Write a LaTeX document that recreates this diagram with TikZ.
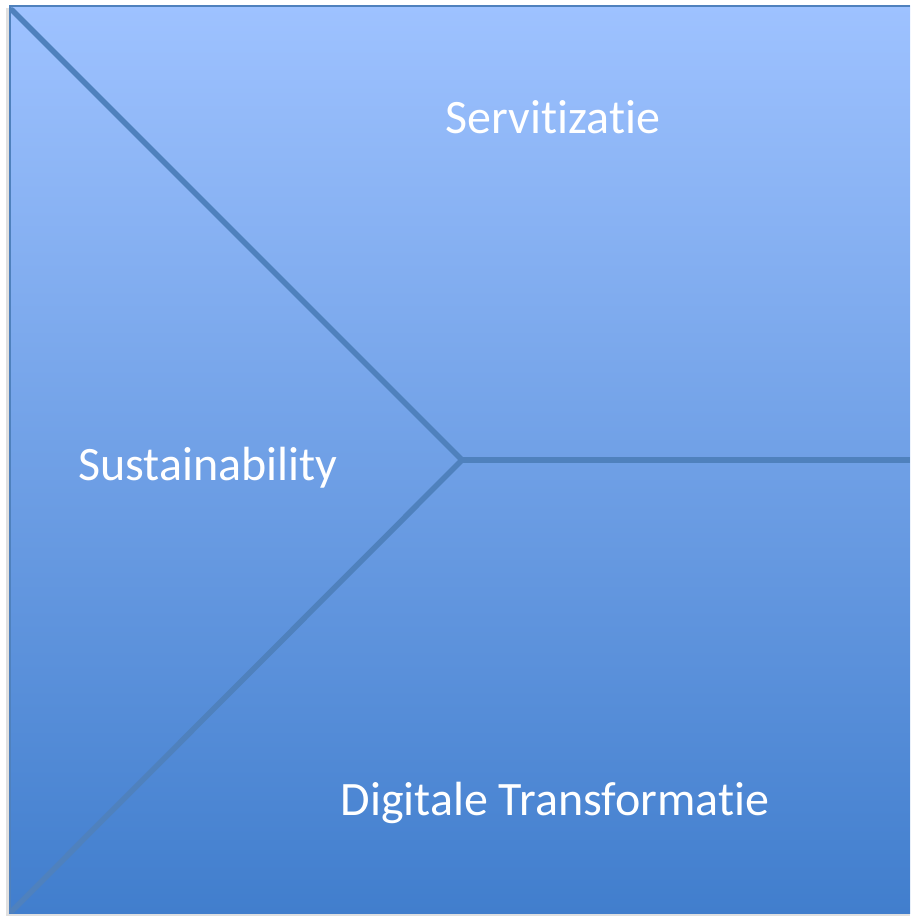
\documentclass[tikz,border=0pt]{standalone}
\usepackage{fontspec}
\setmainfont{Carlito}[Ligatures=NoCommon]
\definecolor{topblue}{HTML}{9EC2FF}
\definecolor{botblue}{HTML}{417ECD}
\definecolor{linecol}{HTML}{4F81BD}
\begin{document}
\begin{tikzpicture}[x=1pt,y=-1pt,
  divider/.style={draw=linecol,line width=5.5pt,line cap=round,line join=round},
  label/.style={text=white,font=\fontsize{48}{52}\selectfont,inner sep=0pt}]
\useasboundingbox (0,0) rectangle (910,917);
\fill[white] (0,0) rectangle (910,917);
\fill[black!12] (6,8) rectangle (910,916);
\shade[top color=topblue,bottom color=botblue] (9,6) rectangle (910,913);
\draw[linecol,line width=2pt] (910,6.5) -- (9.5,6.5) -- (9.5,913);
\coordinate (tl) at (12,10);
\coordinate (c) at (462,460);
\coordinate (r) at (910,460);
\coordinate (bl) at (12,911);
\draw[divider] (tl) -- (c) -- (bl);
\draw[divider,line cap=butt] (c) -- (r);
\node[label] (serv) at (553,117) {Servitizatie};
\node[label] (sust) at (208,468) {Sustainability};
\node[label] (digi) at (555,803) {Digitale Transformatie};
\end{tikzpicture}
\end{document}
